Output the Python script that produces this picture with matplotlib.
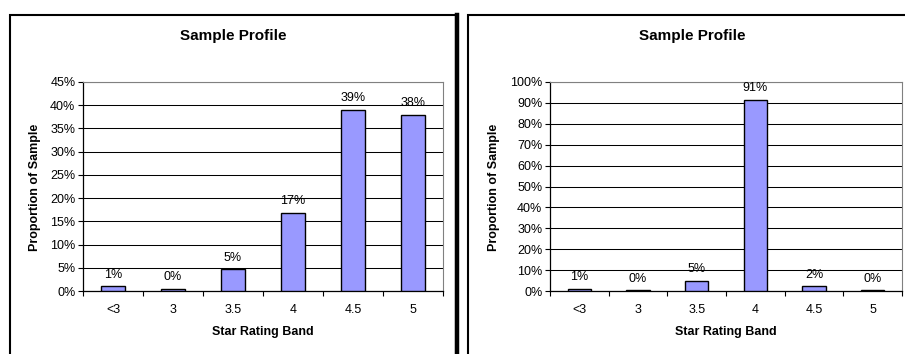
import numpy as np
import matplotlib
matplotlib.use("Agg")
import matplotlib.pyplot as plt
from matplotlib.patches import Rectangle
from matplotlib.lines import Line2D
from matplotlib.ticker import FixedLocator, NullFormatter

plt.rcParams['font.family'] = ['Liberation Sans', 'DejaVu Sans']

# ---------------------------------------------------------------
# Data
# ---------------------------------------------------------------
bands        = ['<3', '3', '3.5', '4', '4.5', '5']
left_values  = [1.05, 0.45, 4.7, 16.8, 39.0, 38.0]   # % of sample
left_labels  = ['1%', '0%', '5%', '17%', '39%', '38%']
right_values = [1.1, 0.45, 4.8, 91.4, 2.3, 0.4]
right_labels = ['1%', '0%', '5%', '91%', '2%', '0%']
left_yticks  = list(range(0, 46, 5))
right_yticks = list(range(0, 101, 10))

W, H = 905, 354
BAR_COLOR = '#9999FF'
FS = 9

fig = plt.figure(figsize=(W / 100, H / 100), dpi=100)


def px_box(x0, y0, x1, y1):
    """pixel box (top-left origin) -> figure fraction [l, b, w, h]"""
    return [x0 / W, 1 - y1 / H, (x1 - x0) / W, (y1 - y0) / H]


def draw_panel(box, values, labels, yticks, ylabel_x, title_x):
    ax = fig.add_axes(px_box(*box))
    x = np.arange(len(values))
    ax.bar(x, values, width=0.4, color=BAR_COLOR, edgecolor='black', linewidth=1.0, zorder=3)
    for xi, v, lab in zip(x, values, labels):
        ax.annotate(lab, (xi, v), xytext=(0, 4), textcoords='offset points',
                    ha='center', va='bottom', fontsize=FS, zorder=4)
    ax.set_xlim(-0.5, len(values) - 0.5)
    ax.set_ylim(yticks[0], yticks[-1])
    ax.set_yticks(yticks)
    ax.set_yticklabels([f'{t}%' for t in yticks], fontsize=FS)
    ax.yaxis.grid(True, color='black', linewidth=0.75)
    ax.set_axisbelow(True)
    # categories labelled at centres, tick marks between them
    ax.xaxis.set_major_locator(FixedLocator(np.arange(-0.5, len(values))))
    ax.xaxis.set_major_formatter(NullFormatter())
    ax.xaxis.set_minor_locator(FixedLocator(x))
    ax.set_xticklabels(bands, minor=True, fontsize=FS)
    ax.tick_params(axis='x', which='minor', length=0, pad=9.5)
    ax.tick_params(axis='x', which='major', length=3.5, width=0.8, direction='out')
    ax.tick_params(axis='y', length=3.5, width=0.8, direction='out', pad=2)
    for side in ('top', 'right'):
        ax.spines[side].set_color('#808080')
        ax.spines[side].set_linewidth(0.8)
    for side in ('left', 'bottom'):
        ax.spines[side].set_color('black')
        ax.spines[side].set_linewidth(0.9)
    fig.text(ylabel_x / W, 1 - 187 / H, 'Proportion of Sample', rotation=90,
             ha='center', va='center', fontsize=FS, fontweight='bold')
    fig.text((box[0] + box[2]) / 2 / W, 1 - 332 / H, 'Star Rating Band',
             ha='center', va='center', fontsize=FS, fontweight='bold')
    fig.text(title_x / W, 1 - 36 / H, 'Sample Profile',
             ha='center', va='center', fontsize=11, fontweight='bold')
    return ax


draw_panel((83, 82, 443, 291), left_values, left_labels, left_yticks, 35, 233)
draw_panel((550, 82, 902, 291), right_values, right_labels, right_yticks, 494, 692)

# chart frames (cut off at the bottom of the image)
fig.add_artist(Rectangle((9.5 / W, -0.1), (456 - 9.5) / W, 1.1 - 15 / H,
                         transform=fig.transFigure, fill=False, edgecolor='black', linewidth=1.5))
fig.add_artist(Line2D([457 / W, 457 / W], [-0.1, 1 - 15 / H], transform=fig.transFigure,
                      color='black', linewidth=3.2))
fig.add_artist(Rectangle((468 / W, -0.1), (910 - 468) / W, 1.1 - 15 / H,
                         transform=fig.transFigure, fill=False, edgecolor='black', linewidth=1.5))

fig.savefig('out.png', dpi=100)
